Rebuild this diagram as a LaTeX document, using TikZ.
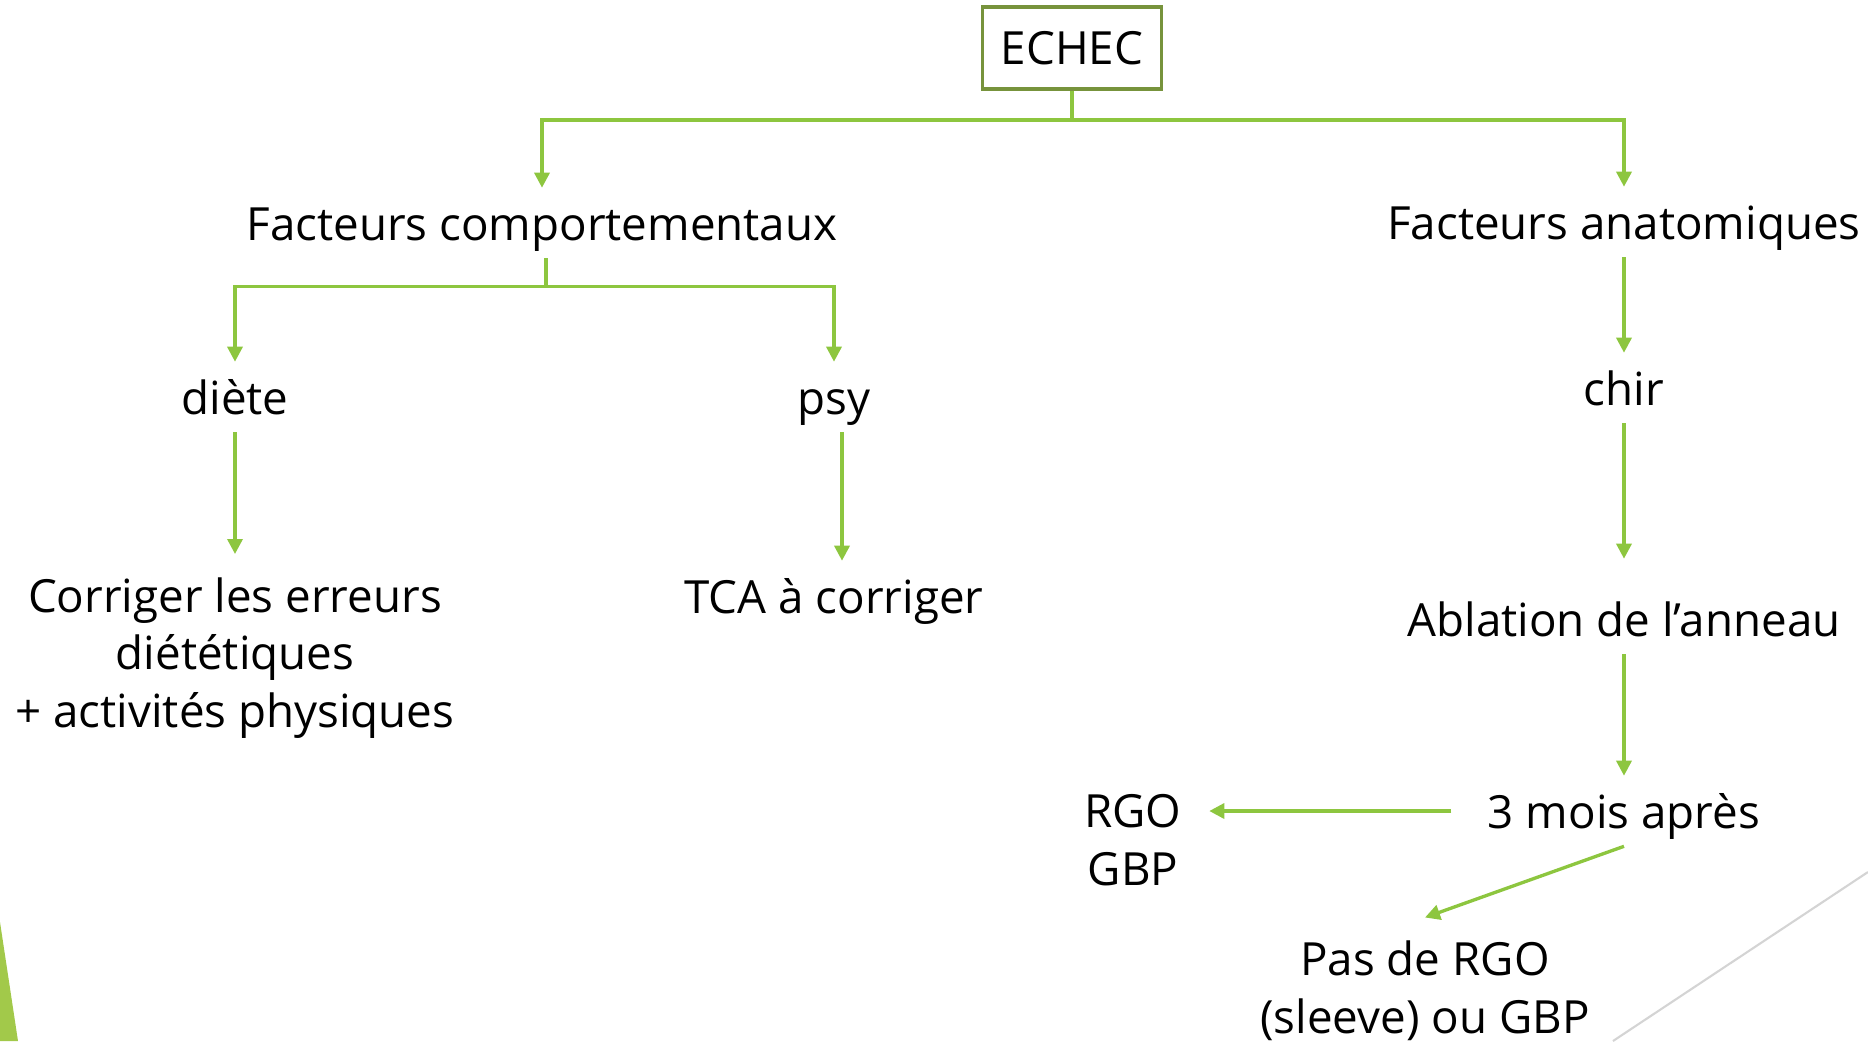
\documentclass[tikz,border=0pt]{standalone}
\usepackage{fontspec}
\setmainfont{Open Sans}
\usetikzlibrary{arrows.meta}
\definecolor{leaf}{RGB}{141,198,63}
\definecolor{moss}{RGB}{119,147,60}
\definecolor{wedge}{RGB}{162,201,74}
\definecolor{rule}{RGB}{212,212,212}

\begin{document}
\begin{tikzpicture}[x=0.01cm,y=-0.01cm,
    lbl/.style={inner xsep=0pt,inner ysep=0.17cm,text height=0.99em,text depth=0.01em,
      font=\fontsize{13}{16.4}\selectfont},
    multi/.style={inner sep=0pt,align=center,font=\fontsize{13}{16.4}\selectfont},
    arr/.style={leaf,line width=0.95pt,-{Triangle[width=0.15cm,length=0.15cm]}}
    ]
    \useasboundingbox (0,0) rectangle (1868,1041);
    \fill[wedge] (0,922) -- (18,1041) -- (0,1041) -- cycle;
    \draw[rule,line width=0.6pt] (1868,872) -- (1613,1041);

    \node (echec) [draw=moss,line width=1.1pt,minimum width=1.79cm,minimum height=0.82cm,
      font=\fontsize{13}{16.4}\selectfont] at (1072,48) {ECHEC};
    \node (comp) [lbl] at (542,223) {Facteurs comportementaux};
    \node (anat) [lbl] at (1624,222) {Facteurs anatomiques};
    \node (diete) [lbl] at (235,397) {diète};
    \node (psy) [lbl] at (834,397) {psy};
    \node (chir) [lbl] at (1624,388) {chir};
    \node (corr) [multi] at (235,658) {Corriger les erreurs\\diététiques\\+ activités physiques};
    \node (tca) [lbl] at (834,596) {TCA à corriger};
    \node (abl) [lbl] at (1624,619) {Ablation de l’anneau};
    \node (mois) [lbl] at (1624,811) {3 mois après};
    \node (rgo) [multi] at (1133,840) {RGO\\GBP};
    \node (pas) [multi] at (1425,991) {Pas de RGO\\(sleeve) ou GBP};

    \foreach \n in {comp,anat}
      \draw[arr] (echec.south) -- ++(0,29) -| (\n.north);
    \foreach \n in {diete,psy}
      \draw[arr] ([xshift=0.04cm]comp.south) -- ++(0,28) -| (\n.north);

    \draw[arr] (diete.south) -- (diete.south |- 0,554);
    \draw[arr] ([xshift=0.08cm]psy.south) -- ([xshift=0.08cm]tca.north);
    \draw[arr] (anat.south) -- (chir.north);
    \draw[arr] (chir.south) -- ([yshift=0.25cm]abl.north);
    \draw[arr] (abl.south) -- (mois.north);
    \draw[arr,shorten <=0.36cm,shorten >=0.27cm] (mois.west) -- (mois.west -| rgo.east);
    \draw[arr] (mois.south) -- ([yshift=0.23cm]pas.north);

\end{tikzpicture}
\end{document}
